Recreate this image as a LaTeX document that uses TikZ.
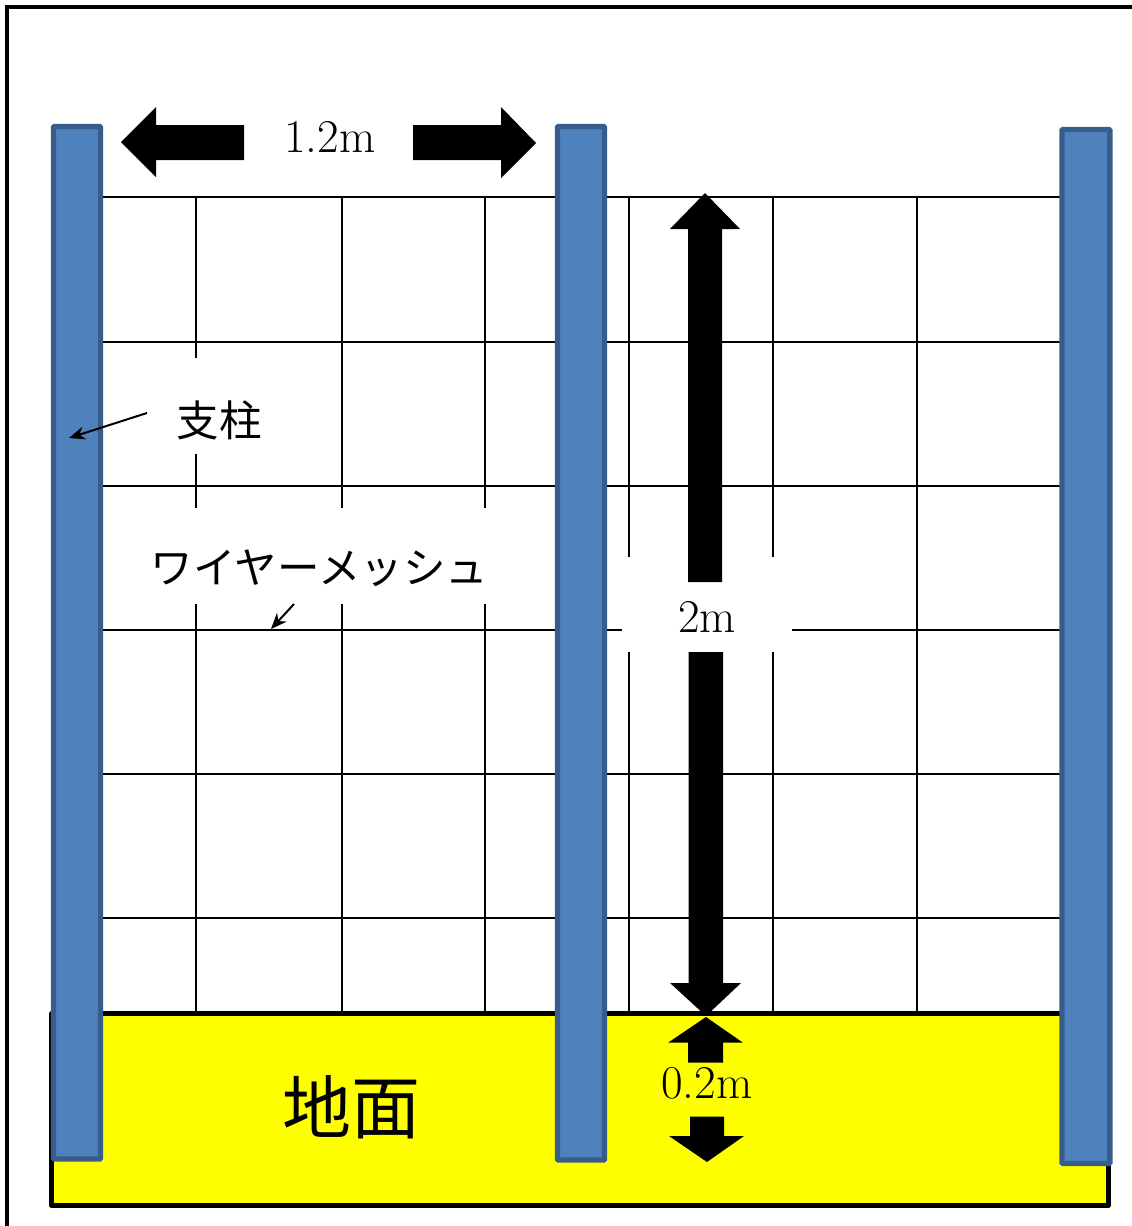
\documentclass[tikz,border=0pt]{standalone}
\usepackage{fontspec}
\usetikzlibrary{arrows.meta}
\newfontfamily\cjk{Noto Sans CJK JP}
\definecolor{postfill}{HTML}{4F81BD}
\definecolor{postline}{HTML}{385D8A}
\definecolor{groundfill}{RGB}{255,255,0}
\tikzset{
  x=1pt,y=-1pt,
  frameline/.style={line width=4pt,draw=black},
  ground/.style={line width=5pt,draw=black,fill=groundfill,line join=round},
  mesh/.style={line width=2pt,draw=black},
  post/.style={line width=5.4pt,draw=postline,fill=postfill,rounded corners=1pt},
  bigarrow/.style={fill=black},
  mask/.style={fill=white},
  leader/.style={line width=2pt,draw=black,-{Stealth[length=16pt,width=13pt]}},
  dim/.style={inner sep=0pt,font=\fontsize{47}{54}\selectfont},
  jp/.style={inner sep=0pt,font=\cjk\fontsize{42.5}{50}\selectfont},
  jpbig/.style={inner sep=0pt,font=\cjk\fontsize{69}{76}\selectfont},
}
\begin{document}
\begin{tikzpicture}
\useasboundingbox (0,0) rectangle (1132,1226);
% outer frame
\draw[frameline] (6.5,1226) -- (6.5,6.5) -- (1132,6.5);
% mesh
\foreach \yy in {197.2,341.6,485.6,629.6,773.6,917.6} \draw[mesh] (100,\yy) -- (1062,\yy);
\foreach \xx in {195.5,341.5,485,629,773,917} \draw[mesh] (\xx,197) -- (\xx,1012);
% white label backgrounds
\fill[mask] (150,358) rectangle (290,454);
\fill[mask] (150,508) rectangle (492,604);
\fill[mask] (622,557) rectangle (792,652);
% ground
\draw[ground] (51.7,1013.5) rectangle (1108,1205.5);
% posts
\draw[post] (53.5,126.5) rectangle (100.5,1159);
\draw[post] (557.5,126.5) rectangle (604.5,1160);
\draw[post] (1062,129.5) rectangle (1109.8,1163.5);
% width arrows
\fill[bigarrow] (121,142) -- (156,107) -- (156,125) -- (244,125) -- (244,160) -- (156,160) -- (156,177) -- cycle;
\fill[bigarrow] (536,143) -- (501,107) -- (501,125) -- (413,125) -- (413,160) -- (501,160) -- (501,178) -- cycle;
% height arrows
\fill[bigarrow] (705,193) -- (740,229) -- (722,229) -- (722,582) -- (688,582) -- (688,229) -- (670,229) -- cycle;
\fill[bigarrow] (706,1016) -- (741,983) -- (723,983) -- (723,652) -- (688.5,652) -- (688.5,983) -- (670,983) -- cycle;
% depth arrows
\fill[bigarrow] (706,1017) -- (743,1042.7) -- (723,1042.7) -- (723,1062.7) -- (688,1062.7) -- (688,1042.7) -- (668,1042.7) -- cycle;
\fill[bigarrow] (707,1162) -- (744,1136) -- (724,1136) -- (724,1116.7) -- (690,1116.7) -- (690,1136) -- (669,1136) -- cycle;
% texts
\node[dim] (w) at (330,137) {1.2m};
\node[dim] (h) at (707,616.5) {2m};
\node[dim] (d) at (707,1083.5) {0.2m};
\node[jp] (lblpost) at (219,420) {支柱};
\node[jp] (lblmesh) at (319.5,568) {ワイヤーメッシュ};
\node[jpbig] (lblground) at (351,1107) {地面};
% leaders
\coordinate (postfrom) at (147,413);
\coordinate (postto) at (69,438);
\coordinate (meshfrom) at (294,604);
\coordinate (meshto) at (271,629);
\draw[leader] (postfrom) -- (postto);
\draw[leader] (meshfrom) -- (meshto);
\end{tikzpicture}
\end{document}
